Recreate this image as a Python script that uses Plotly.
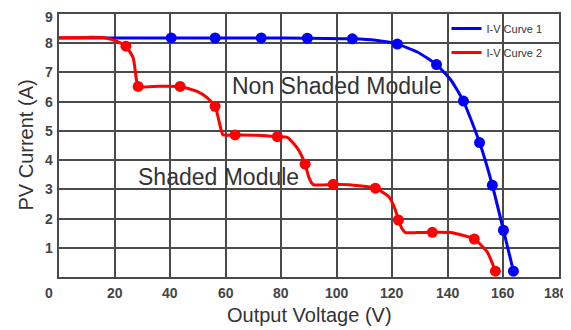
import plotly.graph_objects as go

# Blue I-V curve (non shaded)
blue_line_v = [0, 40.4, 56.2, 72.8, 89.4, 105.6, 114, 121.8, 129, 135.9, 141, 145.6, 151.4, 156, 160, 163.6]
blue_line_i = [8.18, 8.18, 8.18, 8.18, 8.17, 8.15, 8.1, 7.97, 7.7, 7.27, 6.75, 6.02, 4.6, 3.14, 1.6, 0.2]
blue_mark_v = [40.4, 56.2, 72.8, 89.4, 105.6, 121.8, 135.9, 145.6, 151.4, 156, 160, 163.6]
blue_mark_i = [8.18, 8.18, 8.18, 8.17, 8.15, 7.97, 7.27, 6.02, 4.6, 3.14, 1.6, 0.2]

# Red I-V curve (shaded)
red_line_v = [0, 10, 16.6, 21.3, 24.1, 26.7, 27.8, 28.5, 36, 43.6, 49.7, 53.3, 56.2, 57.7, 59,
              63.4, 71, 78.6, 82.2, 86.1, 88.6, 90, 91.5, 98.7, 106, 113.9, 118.6, 121, 122.2,
              123.5, 124.7, 129, 134.4, 141, 149.5, 154.2, 157.1]
red_line_i = [8.19, 8.2, 8.19, 8.05, 7.9, 7.5, 6.8, 6.52, 6.53, 6.52, 6.35, 6.14, 5.84, 5.3, 4.87,
              4.86, 4.85, 4.8, 4.78, 4.37, 3.86, 3.4, 3.16, 3.17, 3.14, 3.04, 2.76, 2.32, 1.95,
              1.65, 1.52, 1.52, 1.53, 1.52, 1.3, 0.85, 0.2]
red_mark_v = [24.1, 28.5, 43.6, 56.2, 63.4, 78.6, 88.6, 98.7, 113.9, 122.2, 134.4, 149.5, 157.1]
red_mark_i = [7.9, 6.52, 6.52, 5.84, 4.86, 4.8, 3.86, 3.17, 3.04, 1.95, 1.53, 1.3, 0.2]

x_ticks = [0, 20, 40, 60, 80, 100, 120, 140, 160, 180]
y_ticks = [1, 2, 3, 4, 5, 6, 7, 8, 9]

BLUE = "#0000ff"
RED = "#ff0000"
GRID = "#4a4a4a"
TXT = "#333333"
FONT = "Liberation Sans, Arial"

fig = go.Figure()
fig.add_trace(go.Scatter(x=blue_line_v, y=blue_line_i, mode="lines", name="I-V Curve 1",
                         legendgroup="a",
                         line=dict(color=BLUE, width=3, shape="spline", smoothing=0.5)))
fig.add_trace(go.Scatter(x=red_line_v, y=red_line_i, mode="lines", name="I-V Curve 2",
                         legendgroup="b",
                         line=dict(color=RED, width=3, shape="spline", smoothing=0.5)))
fig.add_trace(go.Scatter(x=blue_mark_v, y=blue_mark_i, mode="markers", showlegend=False,
                         legendgroup="a", marker=dict(color=BLUE, size=11)))
fig.add_trace(go.Scatter(x=red_mark_v, y=red_mark_i, mode="markers", showlegend=False,
                         legendgroup="b", marker=dict(color=RED, size=11)))

tick_font = dict(family=FONT, size=14, color="#444444", weight="bold")
axis_common = dict(showgrid=True, gridcolor=GRID, gridwidth=1.6, showline=True, linecolor=GRID,
                   linewidth=1.6, mirror=True, zeroline=False, ticks="", automargin=False)

# gridlines at every tick; labels drawn as annotations so edge labels stay inside the page
fig.update_xaxes(range=[0, 180], tickvals=x_ticks, showticklabels=False, **axis_common)
fig.update_yaxes(range=[0, 9], tickvals=y_ticks, showticklabels=False, **axis_common)

for v in x_ticks:
    if v == 0:
        kw = dict(xanchor="center", xshift=-10)
    elif v == 180:
        kw = dict(xanchor="right", xshift=10)
    else:
        kw = dict(xanchor="center")
    fig.add_annotation(x=v, y=0, xref="x", yref="y", text=str(v), showarrow=False,
                       yanchor="middle", yshift=-16, borderpad=0, font=tick_font, **kw)
for v in y_ticks:
    kw = dict(yanchor="top", yshift=6) if v == 9 else dict(yanchor="middle")
    fig.add_annotation(x=0, y=v, xref="x", yref="y", text=str(v), showarrow=False,
                       xanchor="right", xshift=-5, borderpad=0, font=tick_font, **kw)

fig.add_annotation(x=0.5, y=0, xref="paper", yref="paper", text="Output Voltage (V)",
                   showarrow=False, yanchor="middle", yshift=-38,
                   font=dict(family=FONT, size=20, color=TXT))
fig.add_annotation(x=0, y=0.5, xref="paper", yref="paper", text="PV Current (A)",
                   showarrow=False, xanchor="center", textangle=-90, xshift=-34,
                   font=dict(family=FONT, size=20, color=TXT))
fig.add_annotation(x=100, y=6.55, xref="x", yref="y", text="Non Shaded Module", showarrow=False,
                   font=dict(family=FONT, size=23, color=TXT))
fig.add_annotation(x=57.3, y=3.42, xref="x", yref="y", text="Shaded Module", showarrow=False,
                   font=dict(family=FONT, size=23, color=TXT))

# page body adds an 8px offset, so the figure is sized to fit the 571x330 window
fig.update_layout(
    width=563, height=322,
    margin=dict(l=51, r=12, t=6, b=53),
    paper_bgcolor="white", plot_bgcolor="white",
    showlegend=True,
    legend=dict(x=0.775, y=1.0, xanchor="left", yanchor="top", bgcolor="rgba(0,0,0,0)",
                font=dict(family=FONT, size=11, color=TXT),
                itemwidth=30, tracegroupgap=5),
)

fig.write_html("out.html")
